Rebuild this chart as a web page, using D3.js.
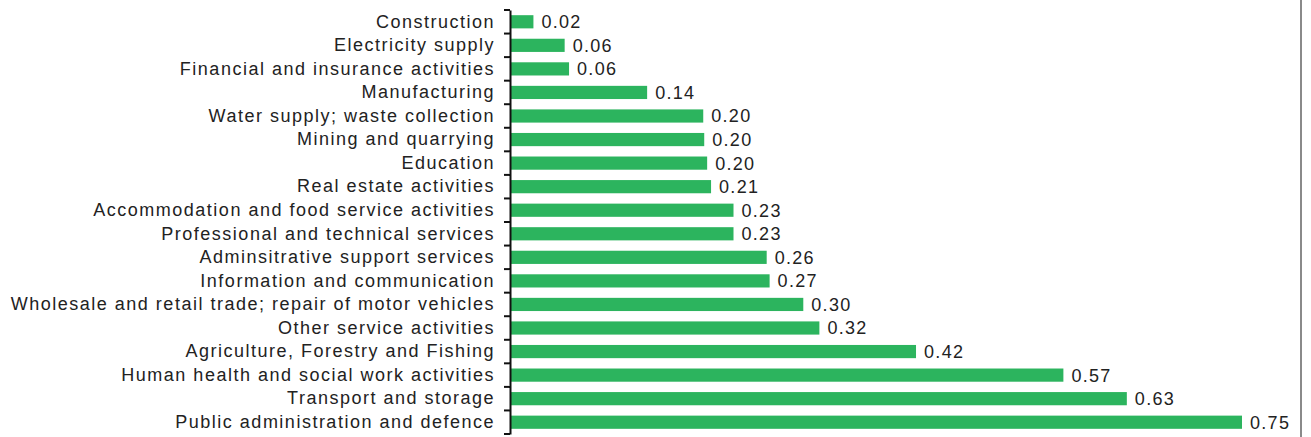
<!DOCTYPE html>
<html>
<head>
<meta charset="utf-8">
<script src="https://cdnjs.cloudflare.com/ajax/libs/d3/7.8.5/d3.min.js"></script>
<style>
body {
    margin: 0;
    background: white;
    font-family: "Liberation Sans", Arial, sans-serif;
}
</style>
</head>
<body>
<svg id="canvas" width="1311" height="437"></svg>
<script>
// categories, top to bottom
var sectors = [
    "Construction",
    "Electricity supply ",
    "Financial and insurance activities",
    "Manufacturing",
    "Water supply; waste collection",
    "Mining and quarrying",
    "Education",
    "Real estate activities",
    "Accommodation and food service activities",
    "Professional and technical services",
    "Adminsitrative support services",
    "Information and communication",
    "Wholesale and retail trade; repair of motor vehicles",
    "Other service activities",
    "Agriculture, Forestry and Fishing",
    "Human health and social work activities",
    "Transport and storage",
    "Public administration and defence"
];
var shares = [0.024, 0.056, 0.0605, 0.1405, 0.198, 0.199, 0.202, 0.206, 0.229, 0.229,
              0.263, 0.266, 0.3005, 0.317, 0.416, 0.567, 0.632, 0.75];

var svg = d3.select("#canvas");
var axisX = 510, plotTop = 10, plotBottom = 434;

var x = d3.scaleLinear().domain([0, 0.75]).range([axisX, 1242]);
var y = d3.scaleBand().domain(sectors).range([plotTop, plotBottom]).paddingInner(0.44).paddingOuter(0.22);

// frame line on the right
svg.append("line")
    .attr("x1", 1301).attr("x2", 1301)
    .attr("y1", 0).attr("y2", 437)
    .attr("stroke", "#8a8a8a").attr("stroke-width", 2);

svg.selectAll("rect.bar")
    .data(sectors)
    .enter().append("rect")
    .attr("class", "bar")
    .attr("x", axisX + 1)
    .attr("y", d => y(d))
    .attr("width", (d, i) => x(shares[i]) - axisX - 1)
    .attr("height", y.bandwidth())
    .attr("fill", "#2cb45e");

// category axis
var axis = d3.axisLeft(y).tickSize(0).tickPadding(15);
var g = svg.append("g").attr("transform", "translate(" + axisX + ",0)").call(axis);
g.select(".domain").attr("stroke", "#111").attr("stroke-width", 2);
g.selectAll("text")
    .attr("font-size", "18px")
    .attr("letter-spacing", "1.5px")
    .attr("font-family", "'Liberation Sans', Arial, sans-serif")
    .attr("fill", "#222");

// boundary ticks between categories
var bounds = d3.range(sectors.length + 1).map(i => plotTop + i * (plotBottom - plotTop) / sectors.length);
g.selectAll("line.sep")
    .data(bounds)
    .enter().append("line")
    .attr("class", "sep")
    .attr("x1", -6).attr("x2", 0)
    .attr("y1", d => d).attr("y2", d => d)
    .attr("stroke", "#111").attr("stroke-width", 2);

// value labels
svg.selectAll("text.val")
    .data(sectors)
    .enter().append("text")
    .attr("class", "val")
    .attr("x", (d, i) => x(shares[i]) + 8)
    .attr("y", d => y(d) + y.bandwidth() / 2)
    .attr("dy", "0.36em")
    .attr("font-size", "18px")
    .attr("letter-spacing", "1.3px")
    .attr("fill", "#222")
    .text((d, i) => shares[i].toFixed(2));
</script>
</body>
</html>
